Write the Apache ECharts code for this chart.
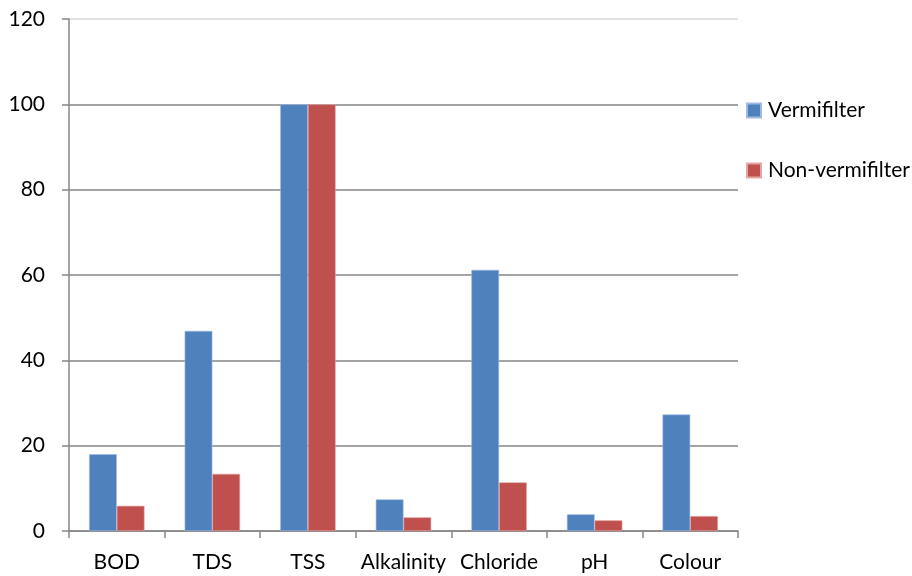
<!DOCTYPE html>
<html>
<head>
<meta charset="utf-8">
<script src="https://cdn.jsdelivr.net/npm/echarts@6/dist/echarts.min.js"></script>
<style>
  html, body { margin: 0; padding: 0; background: #fff; }
  #chart { width: 912px; height: 576px; }
</style>
</head>
<body>
<div id="chart"></div>
<script>
// Removal efficiency per parameter for the two filter types
const categories = ['BOD', 'TDS', 'TSS', 'Alkalinity', 'Chloride', 'pH', 'Colour'];
const vermifilter = [18.0, 46.9, 100, 7.4, 61.2, 3.9, 27.3];
const nonVermifilter = [5.9, 13.4, 100, 3.2, 11.4, 2.5, 3.5];
const yTicks = { min: 0, max: 120, interval: 20 };

const FONT = 'Lato, "Open Sans", sans-serif';
const FONT_SIZE = 21;
const AXIS_GREY = '#868686';

const chart = echarts.init(document.getElementById('chart'), null, { renderer: 'canvas' });

chart.setOption({
  animation: false,
  backgroundColor: '#ffffff',
  textStyle: { fontFamily: FONT },
  grid: { left: 69, top: 19, right: 174, bottom: 45, containLabel: false },
  legend: {
    orient: 'vertical',
    left: 741,
    top: 95,
    itemWidth: 14,
    itemHeight: 14,
    itemGap: 39,
    icon: 'rect',
    textStyle: { fontFamily: FONT, fontSize: FONT_SIZE, color: '#000', padding: [0, 0, 0, 2] },
    data: ['Vermifilter', 'Non-vermifilter']
  },
  xAxis: {
    type: 'category',
    data: categories,
    axisLine: { show: true, lineStyle: { color: AXIS_GREY, width: 1.5 } },
    axisTick: { show: true, length: 7, lineStyle: { color: AXIS_GREY, width: 1.5 } },
    axisLabel: {
      color: '#000',
      fontSize: FONT_SIZE,
      fontFamily: FONT,
      margin: 21,
      interval: 0,
      hideOverlap: false
    },
    splitLine: { show: false }
  },
  yAxis: {
    type: 'value',
    min: yTicks.min,
    max: yTicks.max,
    interval: yTicks.interval,
    axisLine: { show: true, lineStyle: { color: AXIS_GREY, width: 1.5 } },
    axisTick: { show: true, length: 7, lineStyle: { color: AXIS_GREY, width: 1.5 } },
    axisLabel: { color: '#000', fontSize: FONT_SIZE, fontFamily: FONT, margin: 24 },
    splitLine: {
      show: true,
      lineStyle: {
        color: [AXIS_GREY, AXIS_GREY, AXIS_GREY, AXIS_GREY, AXIS_GREY, AXIS_GREY, '#d9d9d9'],
        width: 1.5
      }
    }
  },
  series: [
    {
      name: 'Vermifilter',
      type: 'bar',
      data: vermifilter,
      barGap: '0%',
      barCategoryGap: '42%',
      itemStyle: { color: '#4F81BD', borderColor: '#9dbbe0', borderWidth: 0.6 }
    },
    {
      name: 'Non-vermifilter',
      type: 'bar',
      data: nonVermifilter,
      itemStyle: { color: '#C0504D', borderColor: '#e4a5a3', borderWidth: 0.6 }
    }
  ]
});
</script>
</body>
</html>
